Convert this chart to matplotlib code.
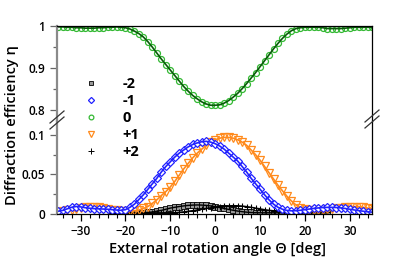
import numpy as np
import matplotlib
matplotlib.use('Agg')
from matplotlib import pyplot as plt
from matplotlib.lines import Line2D
from matplotlib.ticker import MultipleLocator, FormatStrFormatter

plt.rcParams['font.family'] = ['Open Sans', 'DejaVu Sans']
plt.rcParams['font.weight'] = 'semibold'

# rotation angle, deg
angle = np.arange(-35, 36, 1)

# order 0
eta_0 = [0.997, 0.997, 0.996, 0.996, 0.995, 0.995, 0.994, 0.994, 0.994, 0.995,
         0.995, 0.996, 0.996, 0.997, 0.996, 0.995, 0.992, 0.987, 0.981, 0.973,
         0.962, 0.949, 0.935, 0.921, 0.908, 0.895, 0.882, 0.869, 0.856, 0.845,
         0.835, 0.827, 0.820, 0.815, 0.812, 0.812, 0.813, 0.817, 0.823, 0.831,
         0.840, 0.851, 0.863, 0.876, 0.889, 0.903, 0.917, 0.931, 0.945, 0.958,
         0.970, 0.980, 0.988, 0.993, 0.995, 0.996, 0.996, 0.996, 0.996, 0.995,
         0.993, 0.993, 0.993, 0.993, 0.994, 0.995, 0.996, 0.996, 0.996, 0.996,
         0.996]

# order -1
eta_m1 = [0.0030, 0.0040, 0.0060, 0.0080, 0.0090, 0.0085, 0.0075, 0.0068, 0.0063, 0.0060,
          0.0058, 0.0055, 0.0050, 0.0045, 0.0042, 0.0050, 0.0080, 0.0120, 0.0180, 0.0240,
          0.0310, 0.0380, 0.0450, 0.0530, 0.0600, 0.0660, 0.0720, 0.0770, 0.0810, 0.0850,
          0.0880, 0.0900, 0.0915, 0.0920, 0.0910, 0.0890, 0.0860, 0.0820, 0.0770, 0.0720,
          0.0670, 0.0600, 0.0530, 0.0450, 0.0380, 0.0310, 0.0240, 0.0175, 0.0120, 0.0080,
          0.0055, 0.0040, 0.0035, 0.0037, 0.0042, 0.0050, 0.0058, 0.0066, 0.0072, 0.0077,
          0.0079, 0.0079, 0.0077, 0.0072, 0.0065, 0.0055, 0.0046, 0.0037, 0.0030, 0.0022,
          0.0018]

# order +1
eta_p1 = [0.0020, 0.0030, 0.0040, 0.0050, 0.0060, 0.0070, 0.0080, 0.0085, 0.0085, 0.0080,
          0.0070, 0.0060, 0.0050, 0.0040, 0.0035, 0.0030, 0.0030, 0.0035, 0.0045, 0.0065,
          0.0090, 0.0130, 0.0175, 0.0230, 0.0280, 0.0340, 0.0410, 0.0490, 0.0570, 0.0640,
          0.0710, 0.0770, 0.0820, 0.0870, 0.0910, 0.0940, 0.0960, 0.0970, 0.0970, 0.0960,
          0.0940, 0.0910, 0.0870, 0.0810, 0.0750, 0.0680, 0.0600, 0.0520, 0.0440, 0.0360,
          0.0290, 0.0220, 0.0160, 0.0110, 0.0075, 0.0058, 0.0050, 0.0047, 0.0046, 0.0048,
          0.0053, 0.0060, 0.0066, 0.0073, 0.0080, 0.0085, 0.0088, 0.0088, 0.0080, 0.0070,
          0.0060]

# orders -2 / +2 measured from -23 to 25 deg
angle_2 = np.arange(-23, 26, 1)
eta_m2 = [0.0010, 0.0010, 0.0010, 0.0010, 0.0010, 0.0010, 0.0010, 0.0010, 0.0015, 0.0020,
          0.0030, 0.0040, 0.0055, 0.0070, 0.0080, 0.0090, 0.0098, 0.0104, 0.0108, 0.0110,
          0.0108, 0.0104, 0.0097, 0.0088, 0.0077, 0.0065, 0.0053, 0.0042, 0.0032, 0.0024,
          0.0018, 0.0014, 0.0011, 0.0010, 0.0010, 0.0010, 0.0010, 0.0010, 0.0010, 0.0010,
          0.0010, 0.0010, 0.0010, 0.0010, 0.0010, 0.0010, 0.0010, 0.0010, 0.0010]
eta_p2 = [0.0010, 0.0010, 0.0010, 0.0010, 0.0010, 0.0010, 0.0010, 0.0010, 0.0010, 0.0010,
          0.0010, 0.0010, 0.0010, 0.0010, 0.0013, 0.0017, 0.0022, 0.0030, 0.0038, 0.0047,
          0.0056, 0.0065, 0.0074, 0.0082, 0.0089, 0.0095, 0.0099, 0.0101, 0.0100, 0.0096,
          0.0089, 0.0080, 0.0070, 0.0060, 0.0050, 0.0042, 0.0036, 0.0031, 0.0028, 0.0025,
          0.0025, 0.0025, 0.0025, 0.0025, 0.0025, 0.0025, 0.0025, 0.0025, 0.0020]

blue = '#2222ff'
orange = '#ff8a1c'
green = '#33b833'
spine_grey = '#8a8a8a'

fig = plt.figure(figsize=(4.09, 2.64), dpi=100)
ax_top = fig.add_axes([0.139, 0.542, 0.771, 0.361])
ax_bot = fig.add_axes([0.139, 0.191, 0.771, 0.351])

ms = 4.3
# top panel: order 0
ax_top.plot(angle, eta_0, 'o', ms=ms, mfc='none', mec=green, mew=0.9)
ax_top.plot(angle, eta_0, '-', color='#0a5a0a', lw=1.2)
ax_top.set_ylim(0.775, 1.0)

# bottom panel
ax_bot.plot(angle_2, eta_m2, 's', ms=ms, mfc='#999999', mec='black', mew=0.6)
ax_bot.plot(angle_2, eta_p2, '+', ms=5, color='black', mew=0.8)
ax_bot.plot(angle_2, eta_m2, '-', color='black', lw=1.0)
ax_bot.plot(angle_2, eta_p2, '-', color='black', lw=1.0)
ax_bot.plot(angle, eta_p1, 'v', ms=ms + 1, mfc='none', mec=orange, mew=0.9)
ax_bot.plot(angle, eta_p1, '-', color=orange, lw=1.2)
ax_bot.plot(angle, eta_m1, 'D', ms=ms - 0.3, mfc='white', mec=blue, mew=0.9)
ax_bot.plot(angle, eta_m1, '-', color=blue, lw=1.2)
ax_bot.set_ylim(0, 0.118)

for ax in (ax_top, ax_bot):
    ax.set_xlim(-35.3, 35)
    ax.spines['left'].set_color(spine_grey)
    ax.spines['left'].set_linewidth(1.6)
    ax.spines['right'].set_linewidth(0.9)
    ax.tick_params(axis='y', which='both', colors='#666666', labelcolor='black',
                   labelsize=8.5, width=0.9)
    ax.tick_params(axis='y', which='major', length=5)
    ax.tick_params(axis='y', which='minor', length=3)
    ax.xaxis.set_minor_locator(MultipleLocator(2))

ax_top.spines['bottom'].set_visible(False)
ax_top.spines['top'].set_linewidth(0.9)
ax_top.tick_params(axis='x', which='both', bottom=False, labelbottom=False)
ax_top.yaxis.set_major_locator(MultipleLocator(0.1))
ax_top.yaxis.set_minor_locator(MultipleLocator(0.05))
ax_top.yaxis.set_major_formatter(FormatStrFormatter('%g'))

ax_bot.spines['top'].set_visible(False)
ax_bot.spines['bottom'].set_linewidth(0.9)
ax_bot.yaxis.set_major_locator(MultipleLocator(0.05))
ax_bot.yaxis.set_minor_locator(MultipleLocator(0.025))
ax_bot.yaxis.set_major_formatter(FormatStrFormatter('%g'))
ax_bot.xaxis.set_major_locator(MultipleLocator(10))
ax_bot.tick_params(axis='x', which='major', length=5, width=0.9, labelsize=8.5)
ax_bot.tick_params(axis='x', which='minor', length=3, width=0.8)

# axis break marks
W, H = 409.0, 264.0
for x0, x1, yc in ((50, 64, 120), (365, 379, 119)):
    for dy in (-3, 3):
        fig.add_artist(Line2D([x0 / W, x1 / W],
                              [1 - (yc + dy + 6) / H, 1 - (yc + dy - 6) / H],
                              transform=fig.transFigure, color='#333333', lw=0.9))

fig.text(0.029, 0.527, 'Diffraction efficiency η', rotation=90,
         ha='center', va='center', fontsize=10.5)
fig.text(0.533, 0.057, 'External rotation angle Θ [deg]',
         ha='center', va='center', fontsize=10.5)

lms = 3.4
handles = [
    Line2D([], [], ls='none', marker='s', ms=lms, mfc='#999999', mec='black', mew=0.6),
    Line2D([], [], ls='none', marker='D', ms=lms - 0.3, mfc='white', mec=blue, mew=0.9),
    Line2D([], [], ls='none', marker='o', ms=lms, mfc='none', mec=green, mew=0.9),
    Line2D([], [], ls='none', marker='v', ms=lms + 1, mfc='none', mec=orange, mew=0.9),
    Line2D([], [], ls='none', marker='+', ms=4.5, color='black', mew=0.7),
]
fig.legend(handles, ['-2', '-1', '0', '+1', '+2'], loc='upper left',
           bbox_to_anchor=(0.2, 0.708), frameon=False,
           handlelength=1.2, handletextpad=1.6, labelspacing=0.2,
           borderpad=0, borderaxespad=0, prop={'weight': 'bold', 'size': 10.5})

fig.savefig('out.png', dpi=100)
